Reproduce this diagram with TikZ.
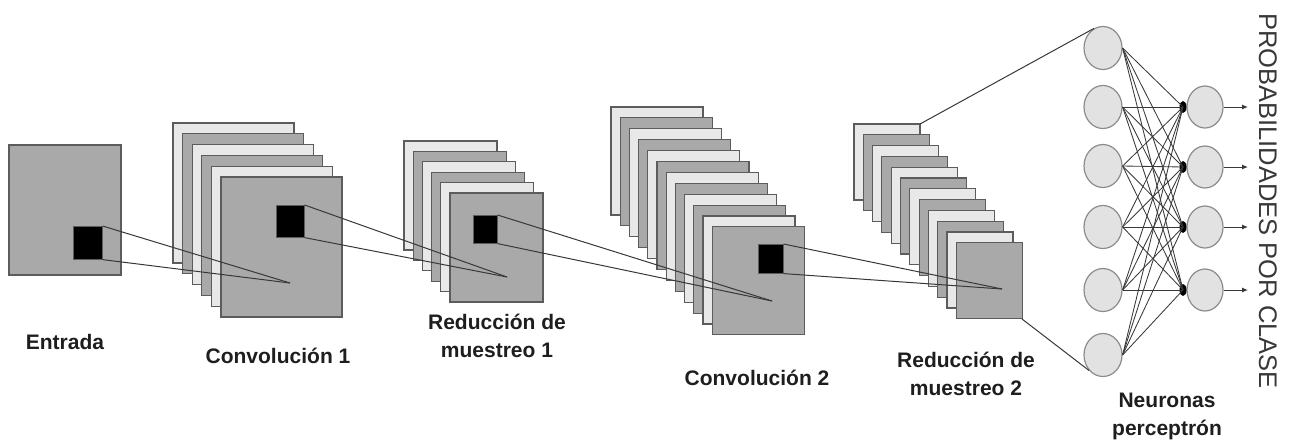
\documentclass[tikz,border=0pt]{standalone}
\usepackage{fontspec}
\setmainfont{Liberation Sans}
\usetikzlibrary{shapes.geometric, arrows.meta}

\definecolor{hojaclara}{HTML}{E8E8E8}
\definecolor{hojaoscura}{HTML}{A9A9A9}
\definecolor{borde}{HTML}{5C5C5C}
\definecolor{relleno}{HTML}{E2E2E2}
\definecolor{bordeneurona}{HTML}{8C8C8C}
\definecolor{trazo}{HTML}{383838}
\definecolor{texto}{HTML}{1E1E1E}

\tikzset{
    hoja/.style = {draw=borde, line width=1.1pt},
    cuadro/.style = {fill=black, draw=borde, line width=0.6pt, inner sep=0pt, anchor=north west},
    enlace/.style = {draw=trazo, line width=1pt},
    sinapsis/.style = {draw=trazo, line width=0.85pt},
    neurona/.style = {ellipse, draw=bordeneurona, fill=relleno, line width=1.2pt,
        minimum width=38pt, minimum height=43pt, inner sep=0pt},
    punto/.style = {ellipse, fill=black, minimum width=7pt, minimum height=12pt, inner sep=0pt},
    salida/.style = {draw=trazo, line width=1pt, -{Latex[length=6pt, width=5pt]}},
    etiqueta/.style = {font=\fontsize{21}{28}\selectfont\bfseries, text=texto, align=center},
}

\newcommand{\pila}[7]{%
    \foreach \i in {0,...,#5}{
        \pgfmathtruncatemacro{\paridad}{mod(\i,2)}
        \ifnum\paridad=0 \def\tono{hojaclara}\else\def\tono{hojaoscura}\fi
        \draw[hoja, fill=\tono] (#1+\i*#6, #2+\i*#7) rectangle ++(#3, #4);
    }%
}

\begin{document}
\begin{tikzpicture}[x=1pt, y=-1pt]
        \useasboundingbox (0,0) rectangle (1290,445);

        \draw[hoja, fill=hojaoscura] (9,145) rectangle (121,275);
        \pila{173}{123}{121}{140}{5}{9.6}{10.8}
        \pila{404}{141}{93}{109}{5}{9.2}{10.4}
        \pila{611}{107}{92}{108}{11}{9.2}{10.9}
        \pila{854}{124}{66}{76}{11}{9.3}{10.8}

        \node[cuadro, minimum width=29pt, minimum height=33pt] (k0) at (73,226) {};
        \node[cuadro, minimum width=28pt, minimum height=32pt] (k1) at (276,205) {};
        \node[cuadro, minimum width=24pt, minimum height=28pt] (k2) at (473,215) {};
        \node[cuadro, minimum width=25pt, minimum height=29pt] (k3) at (758,244) {};

        \coordinate (p1) at (290,283);
        \coordinate (p2) at (507,277);
        \coordinate (p3) at (772,301);
        \coordinate (p4) at (1002,289);
        \coordinate (r2a) at (920,124);
        \coordinate (r2b) at (1022,319);

        \foreach \a/\b in {k0/p1, k1/p2, k2/p3, k3/p4}{
            \draw[enlace] (\a.north east) -- (\b);
            \draw[enlace] (\a.south east) -- (\b);
        }

        \foreach \i/\y in {1/48, 2/107, 3/166, 4/227, 5/290, 6/355}
            \node[neurona] (n\i) at (1103,\y) {};
        \foreach \j/\y in {1/107, 2/167, 3/227, 4/290}{
            \node[neurona, minimum width=36pt, minimum height=42pt] (s\j) at (1205,\y) {};
            \node[punto] (d\j) at (1183,\y) {};
            \coordinate (o\j) at (1248,\y);
        }

        \draw[enlace] (r2a) -- (n1.115);
        \draw[enlace] (r2b) -- (n6.228);
        \foreach \i in {1,...,6}
            \foreach \j in {1,...,4}
                \draw[sinapsis] (n\i.east) -- (d\j.center);
        \foreach \j in {1,...,4}
            \draw[salida] (s\j.east) -- (o\j);

        \node[etiqueta, anchor=base] (entrada) at (65,349) {Entrada};
        \node[etiqueta, anchor=base] (conv1) at (278,363) {Convolución 1};
        \node[etiqueta] (red1) at (497,336) {Reducción de\\muestreo 1};
        \node[etiqueta, anchor=base] (conv2) at (757,385) {Convolución 2};
        \node[etiqueta] (red2) at (966,374) {Reducción de\\muestreo 2};
        \node[etiqueta] (perc) at (1167,416) {Neuronas\\perceptrón};
        \node[rotate=-90, font=\fontsize{25.5}{30}\selectfont, text=trazo] (prob) at (1268,201) {PROBABILIDADES POR CLASE};
\end{tikzpicture}
\end{document}
